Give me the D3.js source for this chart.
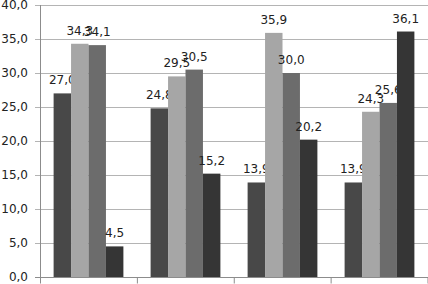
<!DOCTYPE html>
<html>
<head>
<meta charset="utf-8">
<script src="https://cdn.jsdelivr.net/npm/d3@7"></script>
<style>
  body { margin: 0; background: #fff; }
  svg { display: block; font-family: "DejaVu Sans", sans-serif; }
</style>
</head>
<body>
<svg id="chart" width="428" height="284"></svg>
<script>
// chart data
const categories = ["1", "2", "3", "4"];
const seriesNames = ["s1", "s2", "s3", "s4"];
const s1 = [27.0, 24.8, 13.9, 13.9];
const s2 = [34.3, 29.5, 35.9, 24.3];
const s3 = [34.1, 30.5, 30.0, 25.6];
const s4 = [4.5, 15.2, 20.2, 36.1];
const yTicks = [0, 5, 10, 15, 20, 25, 30, 35, 40];
const colors = ["#484848", "#a6a6a6", "#6c6c6c", "#353535"];

const series = [s1, s2, s3, s4];
const svg = d3.select("#chart");
const plotLeft = 40, plotRight = 428, plotTop = 5, plotBottom = 277;

const x = d3.scaleBand().domain(categories).range([plotLeft, plotRight]).padding(0);
const xs = d3.scaleBand().domain(seriesNames).range([0, x.bandwidth()]).paddingOuter(0.78).paddingInner(0);
const y = d3.scaleLinear().domain([0, 40]).range([plotBottom, plotTop]);
const fmt = d => d.toFixed(1).replace(".", ",");

// gridlines + y labels
const yAxis = d3.axisLeft(y).tickValues(yTicks).tickSize(-(plotRight - plotLeft)).tickPadding(12).tickFormat(fmt);
const gy = svg.append("g").attr("transform", "translate(" + plotLeft + ",0)").call(yAxis);
gy.select(".domain").remove();
gy.selectAll(".tick line").attr("stroke", "#b4b4b4").attr("x1", -5);
gy.selectAll(".tick text").attr("fill", "#222").style("font-size", "12px").style("font-family", "DejaVu Sans");

// bars
categories.forEach((c, i) => {
  const g = svg.append("g").attr("transform", "translate(" + x(c) + ",0)");
  seriesNames.forEach((s, j) => {
    const v = series[j][i];
    g.append("rect")
      .attr("x", xs(s))
      .attr("y", y(v))
      .attr("width", xs.bandwidth())
      .attr("height", y(0) - y(v))
      .attr("fill", colors[j]);
    g.append("text")
      .attr("x", xs(s) + xs.bandwidth() / 2)
      .attr("y", y(v) - 9)
      .attr("text-anchor", "middle")
      .attr("fill", "#222")
      .style("font-size", "12px")
      .text(fmt(v));
  });
});

// axes lines
const xb = d3.scaleLinear().domain([0, categories.length]).range([plotLeft, plotRight - 0.5]);
const xAxis = d3.axisBottom(xb).tickValues(d3.range(categories.length + 1)).tickSize(6).tickFormat(() => "");
const gx = svg.append("g").attr("transform", "translate(0," + (plotBottom + 0.5) + ")").call(xAxis);
gx.select(".domain").attr("stroke", "#8c8c8c").attr("d", "M" + (plotLeft - 5) + ",0H" + plotRight);
gx.selectAll(".tick line").attr("stroke", "#8c8c8c");

svg.append("line")
  .attr("x1", plotLeft + 0.5).attr("x2", plotLeft + 0.5)
  .attr("y1", y(40)).attr("y2", plotBottom + 6)
  .attr("stroke", "#8c8c8c");
</script>
</body>
</html>
